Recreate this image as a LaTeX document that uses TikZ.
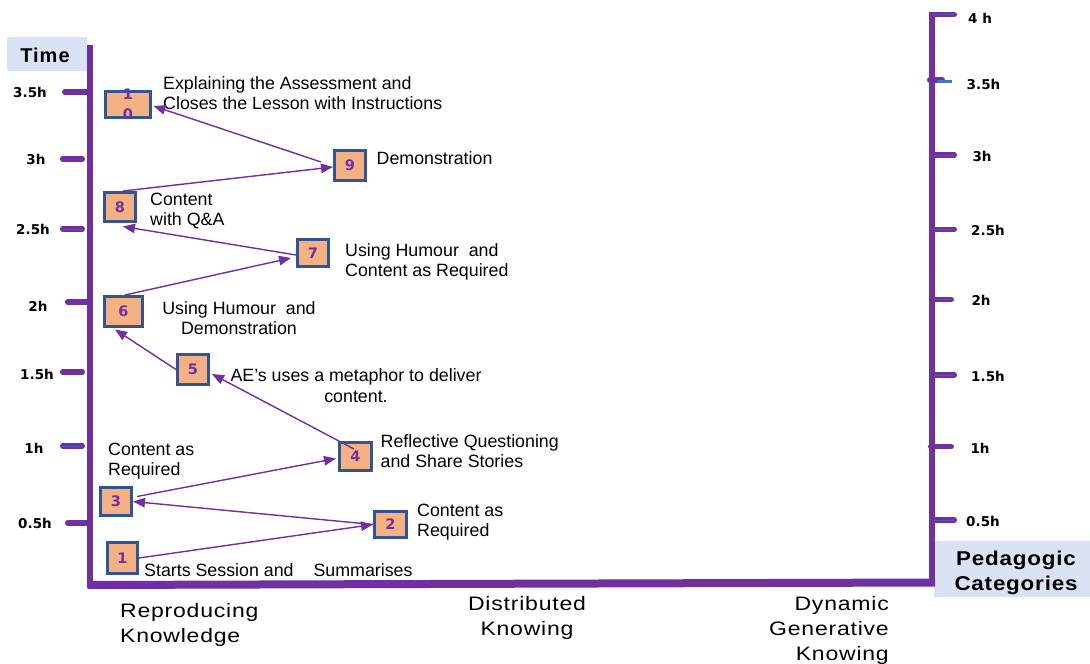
\documentclass[tikz,border=0pt]{standalone}
\usepackage{fontspec}
\setmainfont{Liberation Sans}
\newfontfamily\tickfont{DejaVu Sans}
\newfontfamily\catfont{Liberation Sans}[FakeStretch=1.18,LetterSpace=4]
\newfontfamily\headfont{Liberation Sans}[FakeStretch=1.12,LetterSpace=4]
\newfontfamily\timefont{Liberation Sans}[LetterSpace=5]
\usetikzlibrary{arrows.meta,calc}
\definecolor{axispurple}{HTML}{7030A0}
\definecolor{boxblue}{HTML}{2F5597}
\definecolor{boxfill}{HTML}{F4B183}
\definecolor{headfill}{HTML}{DAE3F3}
\definecolor{tickblue}{HTML}{4472C4}
\begin{document}
\begin{tikzpicture}[x=1pt,y=-1pt,
  axis/.style={draw=axispurple,line width=6pt},
  baseaxis/.style={draw=axispurple,line width=8pt},
  tick/.style={draw=axispurple,line width=5.5pt,line cap=round},
  tickmark/.style={draw=tickblue!60!axispurple,line width=0.8pt},
  ticklabel/.style={font=\tickfont\bfseries\fontsize{13.5}{15}\selectfont,inner sep=0pt},
  stage/.style={draw=boxblue,line width=3pt,fill=boxfill,text=axispurple,
    font=\tickfont\bfseries\fontsize{14.5}{20}\selectfont,
    minimum width=31pt,minimum height=29pt,inner sep=0pt,align=center},
  stagenum/.style={text=axispurple,font=\tickfont\bfseries\fontsize{14.5}{20}\selectfont,
    inner sep=0pt,align=center},
  note/.style={font=\fontsize{17.8}{20.5}\selectfont,inner sep=0pt,anchor=north west,align=left},
  flow/.style={draw=axispurple,line width=1.4pt,-{Triangle[length=12pt,width=9.5pt]}},
  category/.style={font=\catfont\fontsize{19.5}{25}\selectfont,inner sep=0pt},
  headtext/.style={inner sep=0pt,align=center}
]
\useasboundingbox (0,0) rectangle (1090,664);

% header boxes
\fill[headfill] (7,37) rectangle (87,71);
\node[headtext,font=\timefont\bfseries\fontsize{20}{24}\selectfont] (timehead) at (45,55) {Time};
\fill[headfill] (934,541) rectangle (1090,597);
\node[headtext,font=\headfont\bfseries\fontsize{20}{25}\selectfont] (pedhead) at (1016,573) {Pedagogic\\Categories};

% axes
\draw[axis] (90.3,45) -- (90.3,588);
\draw[axis] (932,12) -- (932,586);
\draw[baseaxis] (87.5,585) -- (935,582.5);

% left time scale
\draw[tick] (64.75,92) -- (90,92);
\draw[tick] (62.75,159) -- (82.25,159);
\draw[tick] (62.75,229) -- (82.25,229);
\draw[tickmark] (62,229) -- (83,229);
\draw[tick] (67.75,302) -- (90,302);
\draw[tick] (62.75,372) -- (82.25,372);
\draw[tick] (62.75,446) -- (82.25,446);
\draw[tickmark] (62,446) -- (83,446);
\draw[tick] (67.75,523) -- (90,523);
\node[ticklabel] (l35) at (30,92) {3.5h};
\node[ticklabel] (l30) at (36,159) {3h};
\node[ticklabel] (l25) at (33,229) {2.5h};
\node[ticklabel] (l20) at (38,306) {2h};
\node[ticklabel] (l15) at (37,374) {1.5h};
\node[ticklabel] (l10) at (34,448) {1h};
\node[ticklabel] (l05) at (35,523) {0.5h};

% right time scale
\draw[tick] (932,14.5) -- (954.25,14.5);
\draw[tickmark] (933,14.5) -- (954,14.5);
\draw[tick] (929.75,80) -- (942.25,80);
\draw[draw=tickblue,line width=3pt] (937,81) -- (952,81);
\draw[tick] (932,155) -- (954.25,155);
\draw[tickmark] (934,155) -- (954,155);
\draw[tick] (932,229.3) -- (954.25,229.3);
\draw[tickmark] (934,229.3) -- (954,229.3);
\draw[tick] (932,299.3) -- (951.25,299.3);
\draw[tickmark] (934,299.3) -- (951,299.3);
\draw[tick] (932,375) -- (954.25,375);
\draw[tickmark] (934,375) -- (954,375);
\draw[tick] (930.75,446.7) -- (951.25,446.7);
\draw[tick] (932,520) -- (954.25,520);
\draw[tickmark] (934,520) -- (954,520);
\node[ticklabel] (r40) at (980,18) {4 h};
\node[ticklabel] (r35) at (983.5,84) {3.5h};
\node[ticklabel] (r30) at (982,156) {3h};
\node[ticklabel] (r25) at (988,230.7) {2.5h};
\node[ticklabel] (r20) at (981,300) {2h};
\node[ticklabel] (r15) at (988,376) {1.5h};
\node[ticklabel] (r10) at (980,448) {1h};
\node[ticklabel] (r05) at (983,521) {0.5h};

% teaching stages
\node[stage,minimum width=30pt,minimum height=31pt] (b1) at (122.5,558) {1};
\node[stage,minimum width=32pt,minimum height=26pt] (b2) at (390.5,524.5) {2};
\node[stage,minimum width=31pt,minimum height=28pt] (b3) at (116,501.5) {3};
\node[stage,minimum width=32pt,minimum height=28pt] (b4) at (355.5,456.5) {4};
\node[stage,minimum width=31pt,minimum height=30pt] (b5) at (193,369.5) {5};
\node[stage,minimum width=38pt,minimum height=30pt] (b6) at (123.5,311.5) {6};
\node[stage,minimum width=31pt,minimum height=27pt] (b7) at (313,253) {7};
\node[stage,minimum width=31pt,minimum height=29pt] (b8) at (120,207) {8};
\node[stage,minimum width=31pt,minimum height=30pt] (b9) at (350,165.5) {9};
\node[stage,minimum width=45pt,minimum height=26pt] (b10) at (128,104.5) {};
\node[stagenum] (b10num) at (b10.center) {1\\0};

% stage descriptions
\node[note] (n10) at (163,76) {Explaining the Assessment and\\Closes the Lesson with Instructions};
\node[note] (n9) at (376.5,151) {Demonstration};
\node[note] (n8) at (150,192.5) {Content\\with Q\&A};
\node[note] (n7) at (345,243) {Using Humour\ \ and\\Content as Required};
\node[note,anchor=north,align=center] (n6) at (239,301) {Using Humour\ \ and\\Demonstration};
\node[note,anchor=north,align=center] (n5) at (356,368.5) {AE’s uses a metaphor to deliver\\content.};
\node[note] (n4) at (380.5,434) {Reflective Questioning\\and Share Stories};
\node[note] (n3) at (108,442.5) {Content as\\Required};
\node[note] (n2) at (417,503.5) {Content as\\Required};
\node[note] (n1) at (144,563) {Starts Session and\hspace{20pt}Summarises};

% sequence of stages
\draw[flow] (b1.east) -- (b2.west);
\draw[flow] (b2.west) -- (b3.east);
\draw[flow] ($(b3.east)+(4,-5)$) -- ($(b4.west)+(-2,2)$);
\draw[flow] ($(b4.center)+(-1.5,-7.5)$) -- ($(b5.east)+(2,4.5)$);
\draw[flow] (b5.west) -- ($(b6.south)+(-8.5,1.5)$);
\draw[flow] ($(b6.north)+(1.5,0)$) -- ($(b7.west)+(-5,5)$);
\draw[flow] ($(b7.west)+(0,2)$) -- ($(b8.south)+(3,3.5)$);
\draw[flow] ($(b8.north)+(3,0)$) -- ($(b9.west)+(0,1.5)$);
\draw[flow] ($(b9.west)+(-12,-3.5)$) -- ($(b10.east)+(1.5,1.5)$);

% pedagogic categories
\node[category,anchor=north west,align=left] (c1) at (120,602.7) {Reproducing\\Knowledge};
\node[category,anchor=north,align=center] (c2) at (527,596) {Distributed\\Knowing};
\node[category,anchor=north east,align=right] (c3) at (889,596) {Dynamic\\Generative\\Knowing};
\end{tikzpicture}
\end{document}
